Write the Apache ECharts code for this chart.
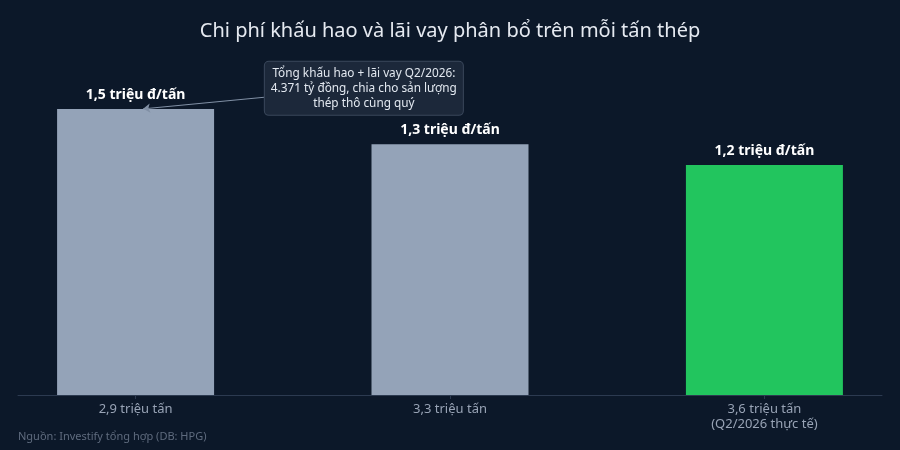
<!DOCTYPE html>
<html><head><meta charset="utf-8">
<script src="https://cdn.jsdelivr.net/npm/echarts@6/dist/echarts.min.js"></script>
<style>html,body{margin:0;padding:0;background:#0c1829;}#c{width:900px;height:450px;}</style>
</head><body><div id="c"></div>
<script>
const categories = ['2,9 triệu tấn', '3,3 triệu tấn', '3,6 triệu tấn\n(Q2/2026 thực tế)'];
const values = [1.505, 1.32, 1.21];
const valueLabels = ['1,5 triệu đ/tấn', '1,3 triệu đ/tấn', '1,2 triệu đ/tấn'];
const barColors = ['#94a3b8', '#94a3b8', '#22c55e'];
const noteText = 'Tổng khấu hao + lãi vay Q2/2026:\n4.371 tỷ đồng, chia cho sản lượng\nthép thô cùng quý';
const notePos = [0.726, 1.614];
const arrowFrom = [0.415, 1.568];
const arrowTo = [0.024, 1.506];

const chart = echarts.init(document.getElementById('c'));
const font = '"Noto Sans", sans-serif';
chart.setOption({
  backgroundColor: '#0c1829',
  animation: false,
  textStyle: { fontFamily: font },
  title: {
    text: 'Chi phí khấu hao và lãi vay phân bổ trên mỗi tấn thép',
    left: 'center', top: 16,
    textStyle: { color: '#e5e9f0', fontSize: 20, fontWeight: 'normal', fontFamily: font }
  },
  graphic: [{
    type: 'text', left: 18, top: 431,
    style: { text: 'Nguồn: Investify tổng hợp (DB: HPG)', fill: '#5f6b7e', fontSize: 11, fontFamily: font }
  }],
  grid: { left: 18, right: 18, top: 53, bottom: 55 },
  xAxis: {
    type: 'value', min: -0.374, max: 2.374,
    splitLine: { show: false },
    axisLine: { show: true, lineStyle: { color: '#2c3a50', width: 1 } },
    axisTick: { show: true, customValues: [0, 1, 2], length: 4, lineStyle: { color: '#2c3a50' } },
    axisLabel: {
      customValues: [0, 1, 2], color: '#98a3b5', fontSize: 13, lineHeight: 15, margin: 7,
      formatter: v => categories[Math.round(v)]
    }
  },
  yAxis: { type: 'value', min: 0, max: 1.8, show: false, splitLine: { show: false } },
  series: [{
    type: 'bar',
    barWidth: 157,
    data: values.map((v, i) => ({
      value: [i, v],
      itemStyle: { color: barColors[i] },
      label: {
        show: true, position: 'top', distance: 7,
        formatter: valueLabels[i], color: '#ffffff', fontSize: 14, fontWeight: 'bold', fontFamily: font
      }
    })),
    markLine: {
      silent: true,
      symbol: ['none', 'arrow'], symbolSize: 7,
      label: { show: false },
      lineStyle: { color: '#8190a5', width: 1, type: 'solid' },
      data: [[{ coord: arrowFrom }, { coord: arrowTo }]]
    },
    markPoint: {
      silent: true,
      symbol: 'rect', symbolSize: 0,
      data: [{
        coord: notePos,
        label: {
          show: true, position: 'inside', formatter: noteText,
          color: '#e2e8f0', fontSize: 11.8, lineHeight: 15, align: 'center',
          backgroundColor: '#1c283a', borderColor: '#3a475b', borderWidth: 1, borderRadius: 4,
          padding: [4, 6, 4, 6], fontFamily: font
        }
      }]
    }
  }]
});
</script></body></html>
